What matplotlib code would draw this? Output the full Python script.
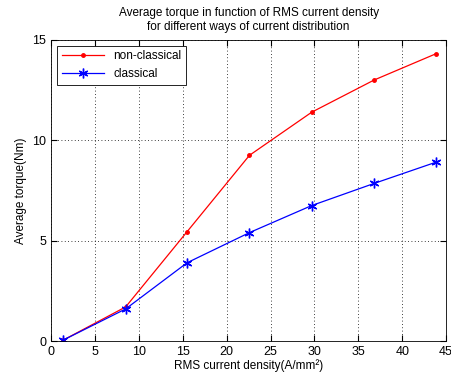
import matplotlib
matplotlib.use("Agg")
import matplotlib.pyplot as plt

x = [1.4, 8.5, 15.5, 22.6, 29.7, 36.8, 43.8]
non_classical = [0.05, 1.7, 5.45, 9.25, 11.4, 13.0, 14.3]
classical = [0.05, 1.6, 3.9, 5.4, 6.75, 7.85, 8.9]
xticks = [0, 5, 10, 15, 20, 25, 30, 35, 40, 45]
yticks = [0, 5, 10, 15]

plt.rcParams['font.family'] = ['Liberation Sans', 'DejaVu Sans']
fig = plt.figure(figsize=(4.52, 3.76), dpi=100)
ax = fig.add_axes([0.113, 0.093, 0.874, 0.801])
ax.plot(x, non_classical, color='red', marker='.', markersize=5, lw=0.9, label='non-classical')
ax.plot(x, classical, color='blue', marker=(6, 2, 0), markersize=7, markeredgewidth=1.0, lw=0.9, label='classical')
ax.set_xlim(0, 45)
ax.set_ylim(0, 15)
ax.set_xticks(xticks)
ax.set_yticks(yticks)
ax.grid(True, color='black', linestyle=(0, (1, 3)), linewidth=0.6)
ax.tick_params(direction='in', labelsize=9, length=4, top=True, right=True)
for s in ax.spines.values():
    s.set_linewidth(0.6)
ax.set_xlabel('RMS current density(A/mm²)', fontsize=8.5, labelpad=1)
ax.set_ylabel('Average torque(Nm)', fontsize=8.5, labelpad=4)
ax.set_title('Average torque in function of RMS current density\nfor different ways of current distribution', fontsize=8.5, pad=7)
leg = ax.legend(loc='upper left', fontsize=8.5, fancybox=False, edgecolor='black', framealpha=1, handlelength=3.6)
leg.get_frame().set_linewidth(0.6)
fig.savefig('out.png', dpi=100, facecolor='white')
